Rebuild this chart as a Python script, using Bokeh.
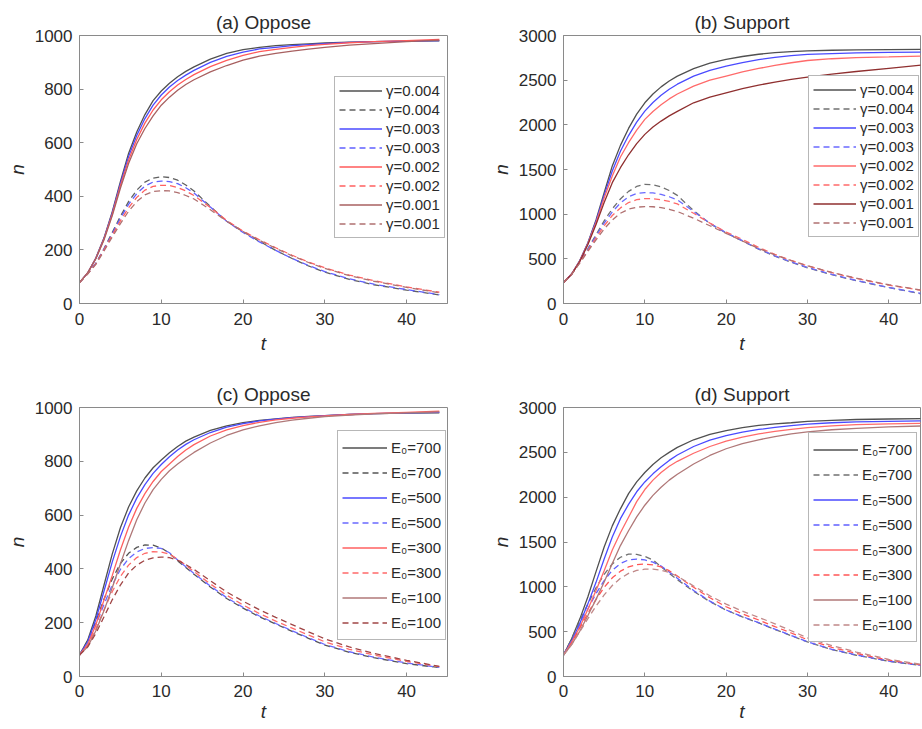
from bokeh.plotting import figure
from bokeh.models import Range1d, FixedTicker, Legend, LegendItem
from bokeh.layouts import column, row
from bokeh.embed import file_html
from bokeh.resources import INLINE

# ---------------- data ----------------
T = [0, 1, 2, 3, 4, 5, 6, 7, 8, 9, 10, 11, 12, 13, 14, 16, 18, 20, 22, 24, 26, 28, 30, 33, 36, 40, 44]

X_TICKS = [0, 10, 20, 30, 40]
Y_TICKS_OPPOSE = [0, 200, 400, 600, 800, 1000]
Y_TICKS_SUPPORT = [0, 500, 1000, 1500, 2000, 2500, 3000]

GAMMA_LABELS = ["γ=0.004", "γ=0.004", "γ=0.003", "γ=0.003", "γ=0.002", "γ=0.002", "γ=0.001", "γ=0.001"]
E0_LABELS = ["E₀=700", "E₀=700", "E₀=500", "E₀=500", "E₀=300", "E₀=300", "E₀=100", "E₀=100"]

# (a) Oppose, varying gamma
a_solid_g004 = [78, 114, 170, 245, 342, 455, 560, 640, 705, 757, 793, 822, 846, 866, 883, 912, 933, 947, 956, 962, 966, 969, 972, 975, 977, 979, 980]
a_dash_g004 = [78, 112, 150, 205, 265, 325, 380, 423, 453, 468, 473, 470, 460, 442, 420, 362, 307, 268, 232, 198, 168, 140, 117, 90, 70, 50, 32]
a_solid_g003 = [78, 114, 169, 243, 337, 447, 548, 627, 690, 740, 778, 808, 832, 852, 870, 900, 922, 938, 950, 956, 962, 966, 970, 974, 977, 979, 981]
a_dash_g003 = [78, 112, 150, 203, 260, 318, 370, 410, 438, 453, 457, 455, 447, 432, 412, 360, 307, 265, 230, 198, 168, 142, 119, 92, 72, 52, 33]
a_solid_g002 = [78, 114, 168, 241, 332, 440, 535, 612, 673, 722, 760, 790, 815, 836, 854, 884, 907, 926, 940, 948, 956, 962, 967, 973, 977, 981, 985]
a_dash_g002 = [78, 111, 148, 200, 255, 308, 357, 396, 423, 437, 441, 440, 433, 420, 403, 358, 310, 270, 238, 208, 180, 155, 133, 106, 85, 62, 42]
a_solid_g001 = [78, 114, 167, 238, 327, 430, 522, 596, 653, 700, 740, 770, 796, 817, 835, 864, 888, 908, 923, 933, 942, 949, 956, 964, 970, 977, 983]
a_dash_g001 = [78, 110, 146, 196, 248, 298, 344, 380, 405, 418, 421, 420, 414, 403, 390, 350, 307, 268, 236, 206, 178, 153, 131, 104, 83, 60, 40]

# (b) Support, varying gamma
b_solid_g004 = [235, 330, 480, 680, 935, 1240, 1540, 1770, 1960, 2120, 2247, 2345, 2425, 2490, 2545, 2630, 2690, 2732, 2765, 2790, 2808, 2820, 2828, 2835, 2840, 2843, 2845]
b_dash_g004 = [235, 330, 465, 615, 770, 925, 1060, 1170, 1255, 1310, 1334, 1330, 1305, 1265, 1210, 1040, 895, 790, 700, 608, 530, 462, 400, 322, 255, 178, 108]
b_solid_g003 = [235, 330, 478, 675, 920, 1210, 1483, 1705, 1880, 2030, 2154, 2250, 2330, 2398, 2455, 2546, 2610, 2657, 2697, 2730, 2755, 2775, 2788, 2798, 2805, 2810, 2814]
b_dash_g003 = [235, 330, 462, 605, 755, 900, 1025, 1125, 1195, 1232, 1241, 1238, 1222, 1195, 1160, 1030, 898, 792, 703, 612, 533, 465, 404, 326, 258, 180, 112]
b_solid_g002 = [235, 328, 475, 668, 905, 1180, 1428, 1640, 1800, 1940, 2061, 2150, 2225, 2290, 2345, 2434, 2500, 2546, 2592, 2631, 2665, 2695, 2720, 2740, 2752, 2760, 2769]
b_dash_g002 = [235, 328, 458, 595, 735, 870, 985, 1070, 1130, 1162, 1174, 1173, 1162, 1142, 1115, 1010, 900, 800, 718, 628, 550, 482, 422, 345, 280, 205, 148]
b_solid_g001 = [235, 326, 470, 660, 885, 1130, 1353, 1520, 1665, 1790, 1893, 1975, 2042, 2100, 2150, 2247, 2310, 2359, 2405, 2445, 2478, 2508, 2534, 2568, 2597, 2632, 2668]
b_dash_g001 = [235, 326, 452, 583, 712, 835, 935, 1010, 1056, 1078, 1085, 1083, 1073, 1055, 1030, 955, 870, 785, 700, 617, 545, 480, 422, 348, 283, 210, 150]

# (c) Oppose, varying E0
c_solid_e700 = [80, 135, 225, 340, 455, 553, 630, 690, 738, 776, 805, 832, 855, 875, 890, 915, 932, 944, 952, 958, 963, 967, 970, 974, 977, 979, 980]
c_dash_e700 = [80, 132, 205, 288, 362, 420, 458, 480, 489, 488, 478, 458, 430, 405, 380, 333, 290, 254, 222, 195, 168, 142, 117, 90, 70, 48, 33]
c_solid_e500 = [80, 128, 212, 318, 425, 520, 600, 663, 713, 755, 788, 817, 842, 863, 880, 907, 927, 940, 950, 957, 962, 966, 970, 974, 977, 980, 982]
c_dash_e500 = [80, 125, 192, 268, 340, 398, 438, 463, 476, 479, 476, 460, 433, 408, 383, 336, 293, 257, 225, 197, 170, 144, 119, 92, 72, 50, 34]
c_solid_e300 = [80, 118, 192, 285, 375, 470, 555, 625, 680, 725, 762, 790, 818, 842, 862, 894, 917, 933, 945, 954, 960, 965, 969, 974, 978, 982, 986]
c_dash_e300 = [80, 118, 178, 248, 315, 372, 414, 442, 458, 464, 463, 455, 436, 414, 390, 344, 302, 266, 234, 206, 180, 154, 129, 101, 80, 56, 37]
c_solid_e100 = [80, 110, 170, 245, 330, 418, 505, 583, 645, 695, 733, 765, 790, 812, 833, 868, 896, 917, 932, 944, 953, 960, 966, 972, 976, 980, 984]
c_dash_e100 = [80, 110, 160, 222, 285, 340, 385, 414, 432, 441, 444, 442, 432, 416, 398, 356, 314, 280, 248, 220, 193, 166, 140, 110, 86, 60, 38]

# (d) Support, varying E0
d_solid_e700 = [240, 420, 640, 890, 1170, 1445, 1680, 1870, 2040, 2170, 2275, 2365, 2440, 2500, 2555, 2640, 2700, 2743, 2775, 2800, 2818, 2830, 2845, 2857, 2866, 2872, 2876]
d_dash_e700 = [240, 420, 620, 810, 990, 1140, 1255, 1330, 1365, 1362, 1340, 1300, 1225, 1150, 1080, 950, 835, 740, 665, 597, 525, 455, 385, 300, 237, 170, 123]
d_solid_e500 = [240, 395, 590, 810, 1050, 1310, 1555, 1760, 1920, 2060, 2170, 2260, 2340, 2410, 2470, 2565, 2635, 2687, 2725, 2755, 2778, 2798, 2815, 2830, 2840, 2846, 2850]
d_dash_e500 = [240, 395, 575, 755, 925, 1070, 1185, 1260, 1300, 1310, 1300, 1275, 1232, 1165, 1095, 960, 840, 742, 668, 600, 528, 458, 388, 303, 240, 172, 125]
d_solid_e300 = [240, 380, 550, 750, 960, 1180, 1410, 1603, 1776, 1950, 2085, 2190, 2275, 2345, 2400, 2490, 2565, 2625, 2670, 2705, 2733, 2757, 2775, 2795, 2808, 2817, 2824]
d_dash_e300 = [240, 375, 540, 705, 860, 995, 1100, 1175, 1222, 1248, 1254, 1245, 1222, 1180, 1120, 995, 878, 778, 698, 630, 557, 485, 410, 325, 258, 182, 130]
d_solid_e100 = [240, 355, 505, 680, 860, 1055, 1260, 1460, 1625, 1780, 1910, 2020, 2110, 2190, 2255, 2370, 2465, 2540, 2598, 2640, 2675, 2705, 2728, 2752, 2768, 2783, 2794]
d_dash_e100 = [240, 355, 500, 645, 785, 910, 1015, 1095, 1150, 1183, 1197, 1197, 1185, 1160, 1118, 1010, 900, 808, 728, 660, 588, 510, 430, 345, 273, 192, 135]

# ---------------- styles ----------------
FONT = "Liberation Sans"
AXIS_COL = "#8a8a8a"
TEXT_COL = "#2a2a2a"

COLORS_A = ["#505050", "#606060", "#4a4aff", "#6060ff", "#ff5a5a", "#ff6060", "#a86060", "#b07070"]
COLORS_B = ["#505050", "#707070", "#4a4aff", "#6a6aff", "#ff6a6a", "#ff6a6a", "#8f2f2f", "#b07070"]
COLORS_C = ["#505050", "#555555", "#4a4aff", "#6a6aff", "#ff6060", "#ff6a6a", "#b07878", "#a04545"]
COLORS_D = ["#505050", "#707070", "#4a4aff", "#6060ff", "#ff6a6a", "#ff5555", "#b07878", "#c08888"]


def make_panel(title, series, labels, colors, ymax, yticks, xmax, frame_w, frame_h,
               borders, legend_loc, glyph_w, glyph_h, bottom_row):
    bl, br, bt, bb = borders
    p = figure(frame_width=frame_w, frame_height=frame_h,
               x_range=Range1d(0, xmax), y_range=Range1d(0, ymax),
               output_backend="svg", toolbar_location=None,
               min_border_left=bl, min_border_right=br, min_border_top=bt, min_border_bottom=bb,
               background_fill_color="white", border_fill_color="white")
    p.grid.visible = False
    p.outline_line_color = AXIS_COL
    p.outline_line_width = 1

    p.title.text = title
    p.title.align = "center"
    p.title.text_font = FONT
    p.title.text_font_size = "19px"
    p.title.text_font_style = "normal"
    p.title.text_color = TEXT_COL
    p.title.standoff = 5

    for ax in (p.xaxis[0], p.yaxis[0]):
        ax.axis_line_color = AXIS_COL
        ax.major_tick_line_color = AXIS_COL
        ax.major_tick_in = 4
        ax.major_tick_out = 0
        ax.minor_tick_line_color = None
        ax.major_label_text_font = FONT
        ax.major_label_text_font_size = "17px"
        ax.major_label_text_color = TEXT_COL
        ax.axis_label_text_font = FONT
        ax.axis_label_text_font_size = "19px"
        ax.axis_label_text_font_style = "italic"
        ax.axis_label_text_color = TEXT_COL

    p.xaxis[0].ticker = FixedTicker(ticks=X_TICKS)
    p.yaxis[0].ticker = FixedTicker(ticks=yticks)
    p.xaxis[0].axis_label = "t"
    p.yaxis[0].axis_label = "n"
    p.yaxis[0].major_label_standoff = 7
    p.yaxis[0].axis_label_standoff = 4
    if bottom_row:
        p.xaxis[0].major_label_standoff = 8
        p.xaxis[0].axis_label_standoff = 1
    else:
        p.xaxis[0].major_label_standoff = 9
        p.xaxis[0].axis_label_standoff = 5

    items = []
    for i, ys in enumerate(series):
        dash = "solid" if i % 2 == 0 else "6 4"
        r = p.line(T, ys, line_color=colors[i], line_width=1.3, line_dash=dash)
        items.append(LegendItem(label=labels[i], renderers=[r]))

    leg = Legend(items=items, location=legend_loc, padding=4, spacing=0, margin=0,
                 glyph_width=glyph_w, glyph_height=glyph_h, label_height=glyph_h,
                 label_standoff=4, label_text_font=FONT, label_text_font_size="15px",
                 label_text_color=TEXT_COL, border_line_color="#707070", border_line_width=1,
                 background_fill_color="white", background_fill_alpha=1.0)
    p.add_layout(leg)
    return p


pa = make_panel("(a) Oppose",
                [a_solid_g004, a_dash_g004, a_solid_g003, a_dash_g003,
                 a_solid_g002, a_dash_g002, a_solid_g001, a_dash_g001],
                GAMMA_LABELS, COLORS_A, 1000, Y_TICKS_OPPOSE, 45, 368, 268,
                (79, 37, 35, 66), (255, 65), 43, 19, False)
pb = make_panel("(b) Support",
                [b_solid_g004, b_dash_g004, b_solid_g003, b_dash_g003,
                 b_solid_g002, b_dash_g002, b_solid_g001, b_dash_g001],
                GAMMA_LABELS, COLORS_B, 3000, Y_TICKS_SUPPORT, 43.9, 357, 268,
                (79, 1, 35, 66), (245, 66), 43, 19, False)
pc = make_panel("(c) Oppose",
                [c_solid_e700, c_dash_e700, c_solid_e500, c_dash_e500,
                 c_solid_e300, c_dash_e300, c_solid_e100, c_dash_e100],
                E0_LABELS, COLORS_C, 1000, Y_TICKS_OPPOSE, 45, 368, 269,
                (79, 37, 38, 52), (258, 36), 45, 25, True)
pd_ = make_panel("(d) Support",
                 [d_solid_e700, d_dash_e700, d_solid_e500, d_dash_e500,
                  d_solid_e300, d_dash_e300, d_solid_e100, d_dash_e100],
                 E0_LABELS, COLORS_D, 3000, Y_TICKS_SUPPORT, 43.9, 357, 269,
                 (79, 1, 38, 52), (245, 34), 45, 25, True)

layout = column(row(pa, pb, spacing=0), row(pc, pd_, spacing=0), spacing=0)

open("out.html", "w").write(file_html(layout, INLINE))
